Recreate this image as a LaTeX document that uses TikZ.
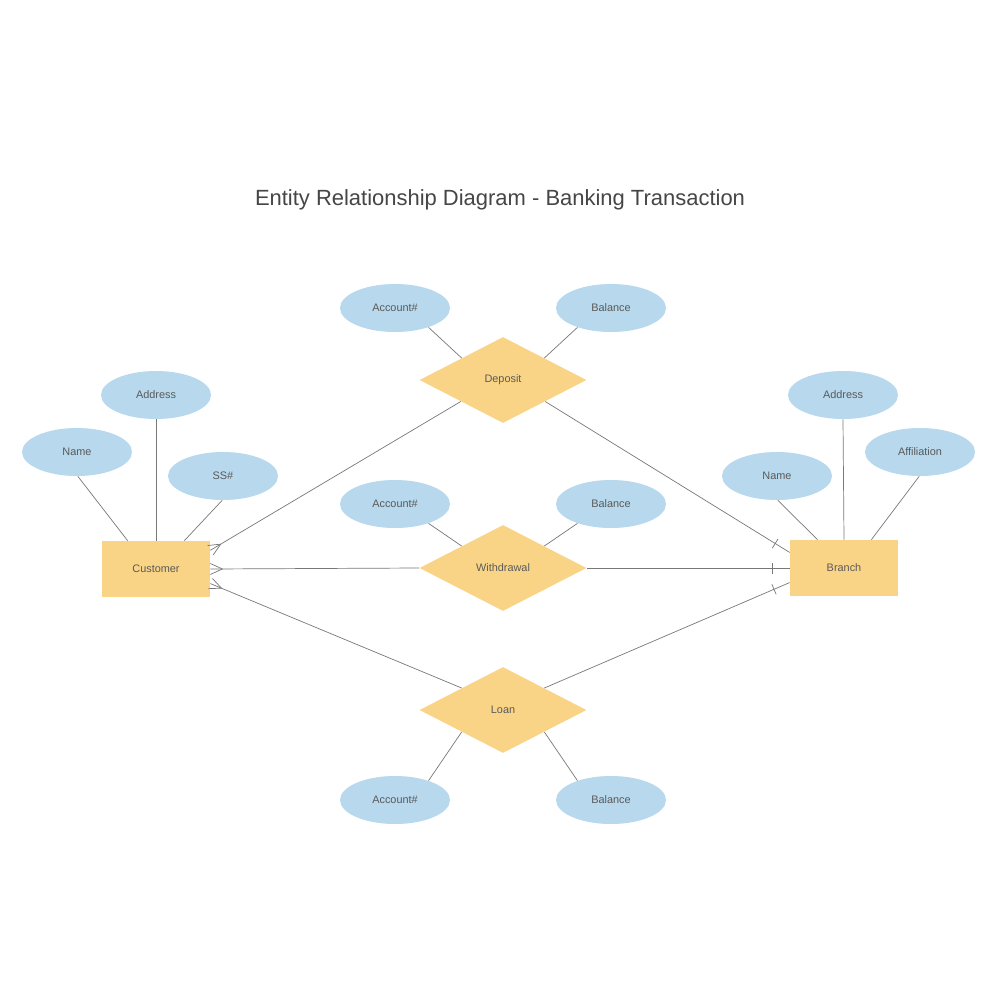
\documentclass[tikz,border=0pt]{standalone}
\usepackage{fontspec}
\setmainfont{Liberation Sans}
\usetikzlibrary{shapes.geometric,decorations.markings}
\definecolor{attrblue}{RGB}{183,216,237}
\definecolor{entyellow}{RGB}{250,212,134}
\definecolor{txtgray}{RGB}{90,90,90}
\definecolor{titlegray}{RGB}{70,70,70}
\definecolor{linegray}{RGB}{120,120,120}
\tikzset{
  attr/.style={ellipse, fill=attrblue, minimum width=22mm, minimum height=9.6mm, inner sep=0pt, text=txtgray, font=\fontsize{6.2}{7}\selectfont},
  entity/.style={rectangle, fill=entyellow, minimum width=21.6mm, minimum height=11.2mm, inner sep=0pt, text=txtgray, font=\fontsize{6.2}{7}\selectfont},
  rel/.style={diamond, fill=entyellow, minimum width=33.4mm, minimum height=17.2mm, inner sep=0pt, text=txtgray, font=\fontsize{6.2}{7}\selectfont},
  conn/.style={draw=linegray, line width=0.4pt},
  crowend/.style={conn, postaction={decorate}, decoration={markings, mark=at position -2.4mm with {\draw[linegray, line width=0.4pt] (0,0) -- (2.4mm,1.1mm); \draw[linegray, line width=0.4pt] (0,0) -- (2.4mm,-1.1mm);}}},
  barend/.style={conn, postaction={decorate}, decoration={markings, mark=at position -3.4mm with {\draw[linegray, line width=0.4pt] (0,-1.1mm) -- (0,1.1mm);}}}
}
\begin{document}
\begin{tikzpicture}[x=0.2mm, y=0.2mm]
\useasboundingbox[fill=white] (0,0) rectangle (1000,-1000);
\node[text=titlegray, font=\fontsize{12.5}{14}\selectfont] (title) at (500,-200) {Entity Relationship Diagram - Banking Transaction};
% entities
\node[entity] (cust) at (156,-569) {Customer};
\node[entity] (branch) at (844,-568) {Branch};
% relationships
\node[rel] (dep) at (503,-380) {Deposit};
\node[rel] (wd) at (503,-568) {Withdrawal};
\node[rel] (loan) at (503,-710) {Loan};
% attributes
\node[attr] (dacc) at (395,-308) {Account\#};
\node[attr] (dbal) at (611,-308) {Balance};
\node[attr] (wacc) at (395,-504) {Account\#};
\node[attr] (wbal) at (611,-504) {Balance};
\node[attr] (lacc) at (395,-800) {Account\#};
\node[attr] (lbal) at (611,-800) {Balance};
\node[attr] (caddr) at (156,-395) {Address};
\node[attr] (cname) at (77,-452) {Name};
\node[attr] (cssn) at (223,-476) {SS\#};
\node[attr] (baddr) at (843,-395) {Address};
\node[attr] (bname) at (777,-476) {Name};
\node[attr] (baff) at (920,-452) {Affiliation};
% attribute links
\draw[conn] (dacc.-30) -- (dep.152);
\draw[conn] (dbal.-150) -- (dep.28);
\draw[conn] (wacc.-30) -- (wd.152);
\draw[conn] (wbal.-150) -- (wd.28);
\draw[conn] (lacc.30) -- (loan.208);
\draw[conn] (lbal.150) -- (loan.332);
\draw[conn] (cname.-88) -- (cust.135);
\draw[conn] (caddr.south) -- (cust.north);
\draw[conn] (cssn.-92) -- (cust.45);
\draw[conn] (bname.-88) -- (branch.133);
\draw[conn] (baddr.south) -- (branch.north);
\draw[conn] (baff.-92) -- (branch.46);
% relationship links
\draw[crowend] (dep.207) -- (cust.19.4);
\draw[crowend] (wd.west) -- (cust.east);
\draw[crowend] (loan.152) -- (cust.-15.5);
\draw[barend] (dep.333) -- (branch.164.5);
\draw[barend] (wd.east) -- (branch.west);
\draw[barend] (loan.28) -- (branch.-165.5);
\end{tikzpicture}
\end{document}
